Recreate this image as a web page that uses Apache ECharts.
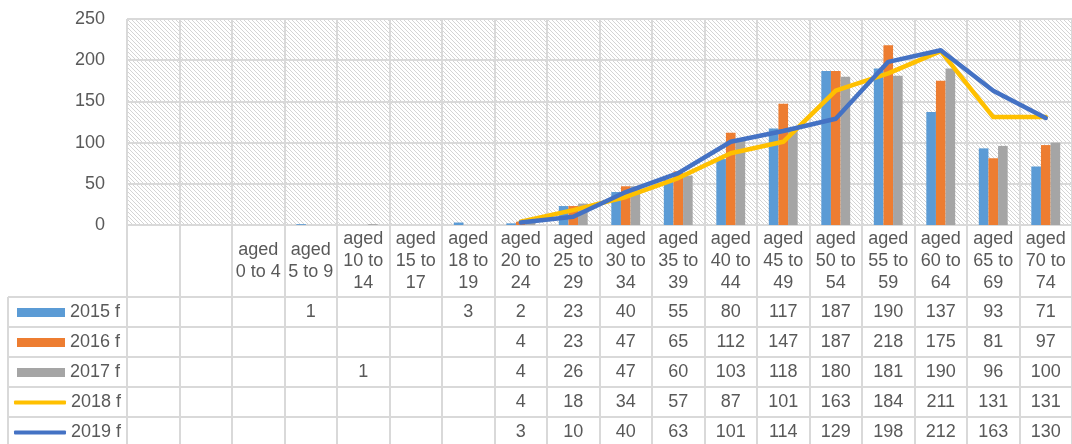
<!DOCTYPE html>
<html>
<head>
<meta charset="utf-8">
<script src="https://cdn.jsdelivr.net/npm/echarts@6/dist/echarts.min.js"></script>
<style>
html,body{margin:0;padding:0;background:#fff;}
#chart{width:1072px;height:444px;}
</style>
</head>
<body>
<div id="chart"></div>
<script>
const categories = ['', '', 'aged 0 to 4', 'aged 5 to 9', 'aged 10 to 14', 'aged 15 to 17', 'aged 18 to 19',
  'aged 20 to 24', 'aged 25 to 29', 'aged 30 to 34', 'aged 35 to 39', 'aged 40 to 44', 'aged 45 to 49',
  'aged 50 to 54', 'aged 55 to 59', 'aged 60 to 64', 'aged 65 to 69', 'aged 70 to 74'];
const seriesNames = ['2015 f', '2016 f', '2017 f', '2018 f', '2019 f'];
const v2015 = [null, null, null, 1, null, null, 3, 2, 23, 40, 55, 80, 117, 187, 190, 137, 93, 71];
const v2016 = [null, null, null, null, null, null, null, 4, 23, 47, 65, 112, 147, 187, 218, 175, 81, 97];
const v2017 = [null, null, null, null, 1, null, null, 4, 26, 47, 60, 103, 118, 180, 181, 190, 96, 100];
const v2018 = [null, null, null, null, null, null, null, 4, 18, 34, 57, 87, 101, 163, 184, 211, 131, 131];
const v2019 = [null, null, null, null, null, null, null, 3, 10, 40, 63, 101, 114, 129, 198, 212, 163, 130];
const yTicks = { min: 0, max: 250, interval: 50 };

const rows = [v2015, v2016, v2017, v2018, v2019];
const colors = ['#5B9BD5', '#ED7D31', '#A5A5A5', '#FFC000', '#4472C4'];
const textColor = '#595959';
const gridColor = '#D9D9D9';
const FONT = 'Liberation Sans';
const FS = 18;

// hatch pattern for plot background
const pc = document.createElement('canvas');
pc.width = 4; pc.height = 4;
const pctx = pc.getContext('2d');
pctx.fillStyle = '#ffffff';
pctx.fillRect(0, 0, 4, 4);
pctx.strokeStyle = '#D4D4D4';
pctx.lineWidth = 1;
for (const x0 of [-4, 0, 4]) {
  pctx.beginPath();
  pctx.moveTo(x0, 0);
  pctx.lineTo(x0 + 4, 4);
  pctx.stroke();
}

function wrapLabel(label) {
  if (!label) return '';
  const w = label.split(' ');
  const rest = w.slice(1).join(' ');
  if (rest.length <= 6) return w[0] + '\n' + rest;
  return w[0] + '\n' + w[1] + ' ' + w[2] + '\n' + w.slice(3).join(' ');
}

const PLOT_LEFT = 127, PLOT_TOP = 19, PLOT_BOTTOM = 225;
const ROW_TOP = 297, ROW_H = 30;

const xAxes = [{
  type: 'category', gridIndex: 0, data: categories, position: 'bottom',
  axisTick: { show: false },
  axisLine: { show: true, lineStyle: { color: gridColor, width: 2 } },
  splitLine: { show: true, interval: 0, lineStyle: { color: gridColor, width: 2 } },
  axisLabel: {
    interval: 0, formatter: (v) => wrapLabel(v), margin: 36, verticalAlign: 'middle',
    lineHeight: 22, fontSize: FS, fontFamily: FONT, color: textColor, align: 'center'
  }
}];
rows.forEach((arr, k) => {
  xAxes.push({
    type: 'category', gridIndex: 0, data: categories, position: 'bottom',
    axisTick: { show: false }, axisLine: { show: false }, splitLine: { show: false },
    axisLabel: {
      interval: 0, margin: (ROW_TOP + ROW_H * k + ROW_H / 2) - PLOT_BOTTOM, verticalAlign: 'middle',
      fontSize: FS, fontFamily: FONT, color: textColor,
      formatter: (v, i) => (arr[i] == null ? '' : String(arr[i]))
    }
  });
});
xAxes.push({
  type: 'category', gridIndex: 1, data: categories,
  axisTick: { show: false }, axisLine: { show: false }, axisLabel: { show: false },
  splitLine: { show: true, interval: 0, lineStyle: { color: gridColor, width: 2 } }
});

const graphics = [];
for (let k = 0; k < rows.length; k++) {
  const y = ROW_TOP + ROW_H * k;
  graphics.push({ type: 'line', shape: { x1: 8, y1: y, x2: 1072, y2: y }, style: { stroke: gridColor, lineWidth: 2 }, silent: true });
}
graphics.push({ type: 'line', shape: { x1: 8, y1: ROW_TOP, x2: 8, y2: 444 }, style: { stroke: gridColor, lineWidth: 2 }, silent: true });

const barSeries = [v2015, v2016, v2017].map((arr, i) => ({
  name: seriesNames[i], type: 'bar', data: arr, xAxisIndex: 0, yAxisIndex: 0,
  barGap: '0%', barCategoryGap: '45%', itemStyle: { color: colors[i] }
}));
const lineSeries = [v2018, v2019].map((arr, j) => ({
  name: seriesNames[3 + j], type: 'line', data: arr, xAxisIndex: 0, yAxisIndex: 0,
  symbol: 'none', connectNulls: false,
  lineStyle: { color: colors[3 + j], width: 4.5, cap: 'round', join: 'round' },
  itemStyle: { color: colors[3 + j] }
}));

const legendText = { fontSize: FS, fontFamily: FONT, color: textColor, lineHeight: 21 };

const chart = echarts.init(document.getElementById('chart'), null, { renderer: 'canvas' });
chart.setOption({
  animation: false,
  backgroundColor: '#ffffff',
  grid: [
    { left: PLOT_LEFT, right: 0, top: PLOT_TOP, bottom: 444 - PLOT_BOTTOM, show: true,
      backgroundColor: { image: pc, repeat: 'repeat' }, borderWidth: 0 },
    { left: PLOT_LEFT, right: 0, top: PLOT_BOTTOM, bottom: 0 }
  ],
  xAxis: xAxes,
  yAxis: [
    { type: 'value', gridIndex: 0, min: yTicks.min, max: yTicks.max, interval: yTicks.interval,
      axisLine: { show: false }, axisTick: { show: false },
      splitLine: { show: true, lineStyle: { color: gridColor, width: 2 } },
      axisLabel: { margin: 22, fontSize: FS, fontFamily: FONT, color: textColor } },
    { type: 'value', gridIndex: 1, show: false, splitLine: { show: false } }
  ],
  legend: [
    {
      orient: 'vertical', left: 17, top: ROW_TOP + 5, padding: 0,
      itemWidth: 48, itemHeight: 9, itemGap: ROW_H - 21, itemTextGap: 5,
      textStyle: legendText,
      data: seriesNames.slice(0, 3).map(n => ({ name: n, icon: 'rect' }))
    },
    {
      orient: 'vertical', left: 14, top: ROW_TOP + 3 * ROW_H + 5, padding: 0,
      itemWidth: 52, itemHeight: 4, itemGap: ROW_H - 21, itemTextGap: 1,
      textStyle: legendText,
      data: seriesNames.slice(3).map(n => ({ name: n, icon: 'roundRect' }))
    }
  ],
  graphic: graphics,
  series: barSeries.concat(lineSeries)
});
</script>
</body>
</html>
